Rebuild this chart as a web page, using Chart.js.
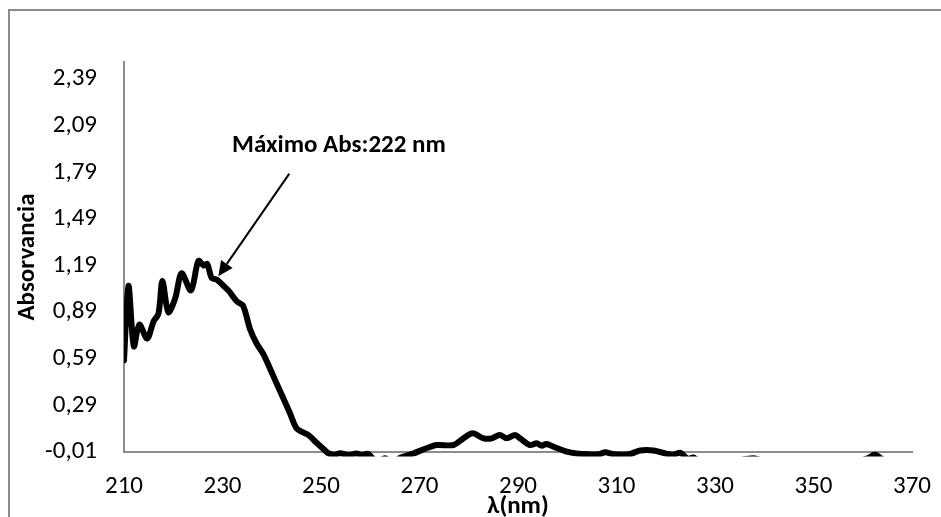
<!DOCTYPE html>
<html>
<head>
<meta charset="utf-8">
<script src="https://cdn.jsdelivr.net/npm/chart.js@4/dist/chart.umd.min.js"></script>
<style>
  html, body { margin: 0; padding: 0; background: #ffffff; }
  #wrap { width: 941px; height: 517px; position: relative; }
</style>
</head>
<body>
<div id="wrap"><canvas id="c" width="941" height="517"></canvas></div>
<script>
// ---- data ----
const wavelengths = [210, 210.9, 212.0, 213.1, 214.7, 216.0, 217.0, 217.8, 219.0, 220.4, 221.7, 223.6, 225.1, 226.2, 226.9, 227.8, 228.8, 230.2, 231.2, 232.9, 234.2, 235.6, 236.9, 238.3, 240.3, 242.0, 243.7, 245.1, 247.4, 249.1, 250.5, 251.5, 252.7, 253.9, 255.5, 257.2, 258.4, 259.6, 261.3, 263.0, 264.6, 266.2, 268.7, 271.4, 273.5, 276.9, 278.9, 280.8, 283.0, 284.7, 286.3, 287.7, 289.4, 290.4, 292.4, 293.8, 294.8, 295.8, 297.2, 299.9, 301.9, 304.5, 306.5, 307.7, 309.5, 312.5, 314.8, 317.5, 320.2, 321.5, 323.0, 324.5, 325.6, 327.0, 332.0, 337.8, 341.0, 350.0, 358.0, 361.0, 362.5, 364.5];
const absorbance = [0.58, 1.06, 0.67, 0.81, 0.72, 0.83, 0.88, 1.09, 0.89, 0.98, 1.14, 1.03, 1.22, 1.19, 1.20, 1.11, 1.10, 1.06, 1.03, 0.96, 0.93, 0.78, 0.69, 0.62, 0.48, 0.36, 0.24, 0.14, 0.10, 0.05, 0.01, -0.018, -0.028, -0.018, -0.03, -0.02, -0.03, -0.022, -0.075, -0.05, -0.08, -0.045, -0.02, 0.014, 0.035, 0.035, 0.078, 0.11, 0.078, 0.078, 0.10, 0.078, 0.10, 0.078, 0.035, 0.046, 0.031, 0.042, 0.024, -0.008, -0.02, -0.025, -0.025, -0.012, -0.025, -0.025, 0.0, 0.0, -0.022, -0.028, -0.015, -0.055, -0.045, -0.075, -0.08, -0.05, -0.08, -0.08, -0.08, -0.05, -0.028, -0.07];

const xTickValues = [210, 230, 250, 270, 290, 310, 330, 350, 370];
const xTickLabels = ['210', '230', '250', '270', '290', '310', '330', '350', '370'];
const yTickValues = [-0.01, 0.29, 0.59, 0.89, 1.19, 1.49, 1.79, 2.09, 2.39];
const yTickLabels = ['-0,01', '0,29', '0,59', '0,89', '1,19', '1,49', '1,79', '2,09', '2,39'];

const xTitle = 'λ(nm)';
const yTitle = 'Absorvancia';
const noteText = 'Máximo Abs:222 nm';
const notePos = [253.65, 1.958];      // text centre (data units)
const arrowFrom = [243.57, 1.782];    // arrow tail (data units)
const arrowTo = [229.15, 1.121];      // arrow tip (data units)

const FONT = "Carlito, Lato, 'Open Sans', sans-serif";
const GRAY = '#8c8c8c';

const points = wavelengths.map((w, i) => ({ x: w, y: absorbance[i] }));

const frame = {
  id: 'frame',
  beforeDraw(chart) {
    const ctx = chart.ctx;
    ctx.save();
    ctx.fillStyle = '#ffffff';
    ctx.fillRect(0, 0, chart.width, chart.height);
    ctx.strokeStyle = GRAY;
    ctx.lineWidth = 2;
    ctx.beginPath();
    ctx.moveTo(9, chart.height + 5);
    ctx.lineTo(9, 10);
    ctx.lineTo(chart.width + 5, 10);
    ctx.stroke();
    ctx.restore();
  }
};

const note = {
  id: 'note',
  afterDraw(chart) {
    const ctx = chart.ctx;
    const xs = chart.scales.x, ys = chart.scales.y;
    const tx = xs.getPixelForValue(notePos[0]), ty = ys.getPixelForValue(notePos[1]);
    const ax = xs.getPixelForValue(arrowFrom[0]), ay = ys.getPixelForValue(arrowFrom[1]);
    const bx = xs.getPixelForValue(arrowTo[0]), by = ys.getPixelForValue(arrowTo[1]);
    ctx.save();
    ctx.fillStyle = '#000';
    ctx.font = "bold 25px " + FONT;
    ctx.textAlign = 'center';
    ctx.textBaseline = 'middle';
    ctx.fillText(noteText, tx, ty);
    // arrow
    const ang = Math.atan2(by - ay, bx - ax);
    const head = 15, hw = 7;
    const baseX = bx - head * Math.cos(ang), baseY = by - head * Math.sin(ang);
    ctx.strokeStyle = '#000';
    ctx.lineWidth = 2;
    ctx.beginPath();
    ctx.moveTo(ax, ay);
    ctx.lineTo(baseX, baseY);
    ctx.stroke();
    ctx.beginPath();
    ctx.moveTo(bx, by);
    ctx.lineTo(baseX + hw * Math.sin(ang), baseY - hw * Math.cos(ang));
    ctx.lineTo(baseX - hw * Math.sin(ang), baseY + hw * Math.cos(ang));
    ctx.closePath();
    ctx.fill();
    ctx.restore();
  }
};

new Chart(document.getElementById('c'), {
  type: 'scatter',
  data: {
    datasets: [{
      data: points,
      showLine: true,
      borderColor: '#000000',
      backgroundColor: '#000000',
      borderWidth: 6,
      pointRadius: 0,
      tension: 0.3,
      borderCapStyle: 'round',
      borderJoinStyle: 'round',
      clip: { left: 0, top: 0, right: 0, bottom: 4.5 }
    }]
  },
  options: {
    responsive: false,
    animation: false,
    events: [],
    layout: { padding: { left: 0, right: 29, top: 62, bottom: 0 } },
    plugins: { legend: { display: false }, tooltip: { enabled: false } },
    scales: {
      x: {
        type: 'linear',
        min: 210, max: 370,
        afterFit(s) { s.height = 65; },
        afterBuildTicks(s) { s.ticks = xTickValues.map(v => ({ value: v })); },
        grid: { display: false, drawTicks: false },
        border: { display: true, color: GRAY, width: 2, z: -1 },
        ticks: {
          padding: 8,
          color: '#000',
          font: { family: FONT, size: 25, lineHeight: 2.16 },
          maxRotation: 0,
          autoSkip: false,
          callback: (v, i) => xTickLabels[i]
        },
        title: {
          display: true, text: xTitle, color: '#000',
          font: { family: FONT, size: 25, weight: 'bold', lineHeight: 0.8 },
          padding: { top: 0, bottom: 0 }
        }
      },
      y: {
        type: 'linear',
        min: -0.01, max: 2.5,
        afterFit(s) { s.width = 124; },
        afterBuildTicks(s) { s.ticks = yTickValues.map(v => ({ value: v })); },
        grid: { display: false, drawTicks: false },
        border: { display: true, color: GRAY, width: 2, z: -1 },
        ticks: {
          padding: 27,
          color: '#000',
          font: { family: FONT, size: 25 },
          autoSkip: false,
          callback: (v, i) => yTickLabels[i]
        },
        title: {
          display: true, text: yTitle, color: '#000',
          font: { family: FONT, size: 25, weight: 'bold' },
          padding: { top: 13, bottom: 0 }
        }
      }
    }
  },
  plugins: [frame, note]
});
</script>
</body>
</html>
